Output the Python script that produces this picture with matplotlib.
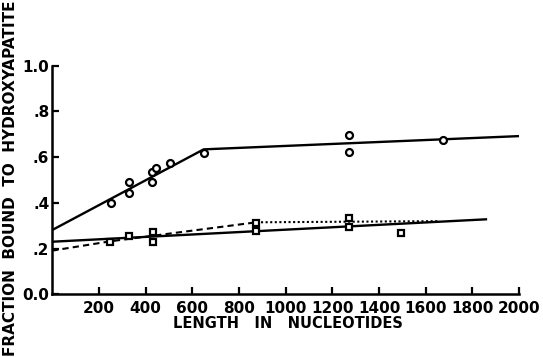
import matplotlib
matplotlib.use("Agg")
import matplotlib.pyplot as plt

plt.rcParams['font.family'] = ['DejaVu Sans']

# circles (upper series)
circ_x = [251, 329, 329, 428, 428, 447, 505, 649, 1272, 1272, 1673]
circ_y = [0.398, 0.491, 0.444, 0.493, 0.534, 0.551, 0.576, 0.617, 0.698, 0.624, 0.676]

# squares (lower series)
sq_x = [249, 329, 432, 432, 872, 872, 1272, 1272, 1495]
sq_y = [0.230, 0.255, 0.271, 0.227, 0.313, 0.278, 0.332, 0.296, 0.269]

# fitted lines
upper_x = [0, 649, 2000]
upper_y = [0.281, 0.634, 0.692]
lower_x = [0, 1858]
lower_y = [0.230, 0.328]
dash_x = [0, 250, 875]
dash_y = [0.191, 0.232, 0.315]
dot_x = [875, 1650]
dot_y = [0.315, 0.320]

xticks = [200, 400, 600, 800, 1000, 1200, 1400, 1600, 1800, 2000]
yticks = [0.0, 0.2, 0.4, 0.6, 0.8, 1.0]
ytick_labels = ['0.0', '.2', '.4', '.6', '.8', '1.0']

fig = plt.figure(figsize=(5.43, 3.57), dpi=100)
ax = fig.add_axes([0.096, 0.1756, 0.86, 0.6404])

ax.plot(upper_x, upper_y, color='black', lw=1.7)
ax.plot(lower_x, lower_y, color='black', lw=1.7)
ax.plot(dash_x, dash_y, color='black', lw=1.5, ls=(0, (3, 2)))
ax.plot(dot_x, dot_y, color='black', lw=1.5, ls=(0, (1, 1.2)))

ax.plot(circ_x, circ_y, 'o', ms=5, mfc='white', mec='black', mew=1.6)
ax.plot(sq_x, sq_y, 's', ms=5, mfc='white', mec='black', mew=1.6)

ax.set_xlim(0, 2000)
ax.set_ylim(0, 1.0)
for s in ['top', 'right']:
    ax.spines[s].set_visible(False)
for s in ['left', 'bottom']:
    ax.spines[s].set_linewidth(1.8)

ax.set_xticks(xticks)
ax.set_xticklabels([str(v) for v in xticks], fontsize=11, fontweight='heavy')
ax.set_yticks(yticks)
ax.set_yticklabels(ytick_labels, fontsize=11, fontweight='heavy')
ax.tick_params(axis='x', direction='in', length=5, width=1.6, pad=5)
ax.tick_params(axis='y', direction='in', length=5, width=1.6, pad=2)

fig.text(0.53, 0.095, 'LENGTH   IN   NUCLEOTIDES', ha='center', va='center',
         fontsize=10.5, fontweight='heavy')
fig.text(0.02, 0.5, 'FRACTION  BOUND  TO  HYDROXYAPATITE', ha='center', va='center',
         rotation=90, fontsize=11, fontweight='heavy')

fig.savefig('out.png', dpi=100)
